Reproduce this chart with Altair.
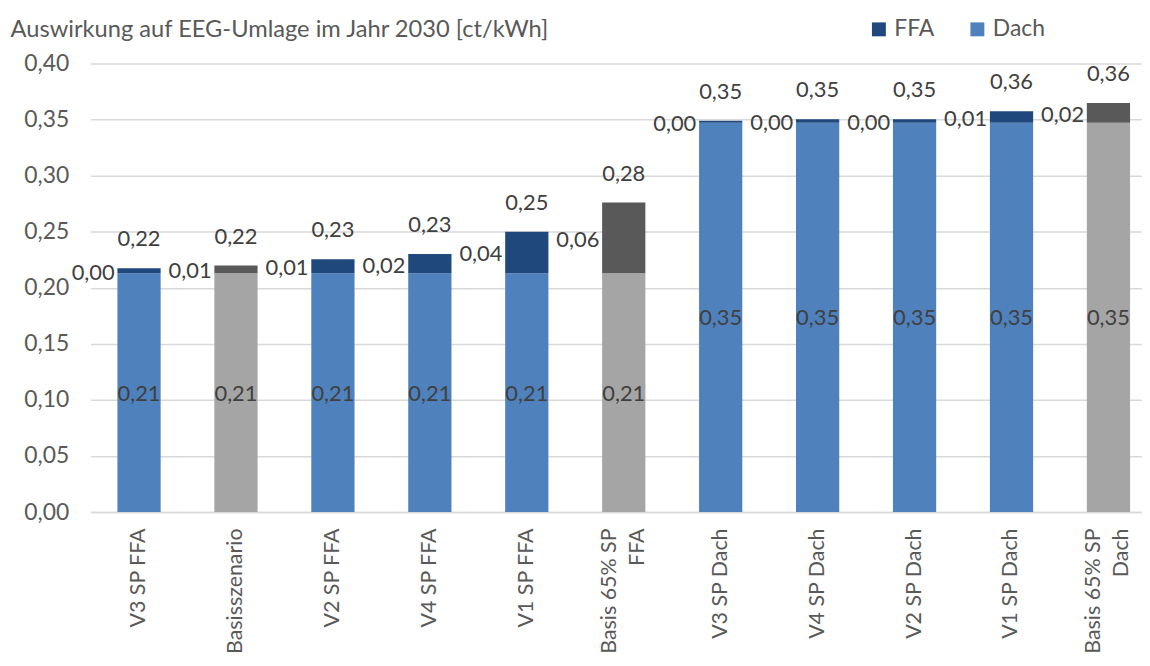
import altair as alt
import pandas as pd

categories = ["V3 SP FFA", "Basisszenario", "V2 SP FFA", "V4 SP FFA", "V1 SP FFA",
              "Basis 65% SP\nFFA", "V3 SP Dach", "V4 SP Dach", "V2 SP Dach",
              "V1 SP Dach", "Basis 65% SP\nDach"]
dach = [0.213, 0.213, 0.213, 0.213, 0.213, 0.213, 0.347, 0.347, 0.347, 0.347, 0.347]
ffa = [0.0044, 0.0068, 0.0123, 0.0171, 0.0370, 0.0630, 0.0018, 0.0033, 0.0033, 0.0104, 0.0177]
is_basis = [False, True, False, False, False, True, False, False, False, False, True]

series_names = ["FFA", "Dach", "FFA (Basis)", "Dach (Basis)"]
series_colors = ["#1F497D", "#4F81BD", "#595959", "#A5A5A5"]
y_ticks = [0.0, 0.05, 0.10, 0.15, 0.20, 0.25, 0.30, 0.35, 0.40]
y_title = "Auswirkung auf EEG-Umlage im Jahr 2030  [ct/kWh]"

df = pd.DataFrame({"category": categories, "dach": dach, "ffa": ffa, "basis": is_basis})

FONT = "Lato"
fmt = lambda f: f"replace(format(datum.{f}, '.2f'), '.', ',')"

base = alt.Chart(df).transform_calculate(
    total="datum.dach + datum.ffa",
    ffamid="datum.dach + datum.ffa / 2",
    dachmid="datum.dach / 2",
    key_dach="datum.basis ? 'Dach (Basis)' : 'Dach'",
    key_ffa="datum.basis ? 'FFA (Basis)' : 'FFA'",
).transform_calculate(
    lab_total=fmt("total"),
    lab_ffa=fmt("ffa"),
    lab_dach=fmt("dach"),
)

x_enc = alt.X(
    "category:N",
    sort=categories,
    title=None,
    scale=alt.Scale(range=[0, 1072], paddingInner=0.554, paddingOuter=0.277),
    axis=alt.Axis(
        labelAngle=-90,
        labelPadding=16,
        labelFontSize=21.5,
        labelFont=FONT,
        labelColor="#595959",
        labelLineHeight=28,
        labelExpr="split(datum.label, '\\n')",
        labelOffset={"condition": {"test": "indexof(datum.value, '\\n') >= 0", "value": -14},
                     "value": 0},
        ticks=False,
        domainColor="#D9D9D9",
        domainWidth=1.5,
        grid=False,
        labelLimit=400,
    ),
)

y_scale = alt.Scale(domain=[0, 0.4], nice=False)
y_axis = alt.Axis(
    values=y_ticks,
    labelExpr="replace(format(datum.value, '.2f'), '.', ',')",
    labelFontSize=23,
    labelFont=FONT,
    labelColor="#595959",
    labelPadding=22,
    ticks=False,
    domain=False,
    grid=True,
    gridColor="#D9D9D9",
    gridWidth=1.5,
    title=y_title,
    titleAngle=0,
    titleAlign="left",
    titleBaseline="alphabetic",
    titleX=-81,
    titleY=-27,
    titleFont=FONT,
    titleFontSize=23.8,
    titleFontWeight="normal",
    titleColor="#595959",
)

color_scale = alt.Scale(domain=series_names, range=series_colors)
legend = alt.Legend(
    values=["FFA", "Dach"],
    orient="none",
    direction="horizontal",
    legendX=781,
    legendY=-46,
    title=None,
    symbolType="square",
    symbolSize=196,
    symbolStrokeWidth=0,
    labelFont=FONT,
    labelFontSize=23,
    labelColor="#595959",
    labelOffset=4,
    columnPadding=31,
    padding=0,
)

bar_dach = base.mark_bar().encode(
    x=x_enc,
    y=alt.Y("dach:Q", scale=y_scale, axis=y_axis),
    y2=alt.Y2(datum=0),
    color=alt.Color("key_dach:N", scale=color_scale, legend=legend),
)
bar_ffa = base.mark_bar().encode(
    x=x_enc,
    y=alt.Y("dach:Q", scale=y_scale, axis=y_axis),
    y2="total:Q",
    color=alt.Color("key_ffa:N", scale=color_scale, legend=legend),
)

txt = dict(font=FONT, fontSize=22, color="#404040")
t_total = base.mark_text(baseline="alphabetic", align="center", dy=-22, **txt).encode(
    x=x_enc, y=alt.Y("total:Q", scale=y_scale), text="lab_total:N"
)
t_ffa = base.mark_text(baseline="middle", align="right", dx=-24.5, dy=2, **txt).encode(
    x=x_enc, y=alt.Y("ffamid:Q", scale=y_scale), text="lab_ffa:N"
)
t_dach = base.mark_text(baseline="middle", align="center", dy=1, **txt).encode(
    x=x_enc, y=alt.Y("dachmid:Q", scale=y_scale), text="lab_dach:N"
)

chart = alt.layer(bar_dach, bar_ffa, t_total, t_ffa, t_dach).properties(
    width=1057,
    height=451,
    autosize=alt.AutoSizeParams(type="none"),
    padding={"left": 83, "top": 54, "right": 0, "bottom": 145},
    background="white",
).configure_view(stroke=None)

chart.save("out.html", embed_options={"renderer": "svg", "actions": False})
